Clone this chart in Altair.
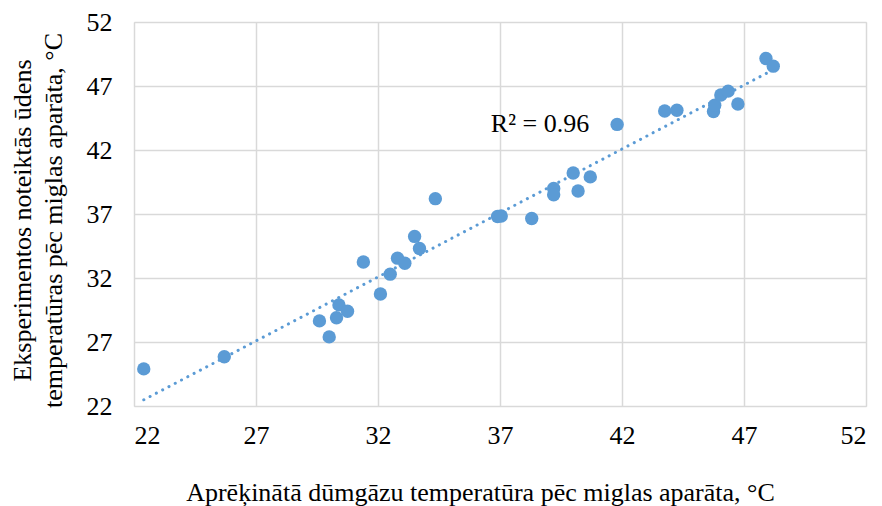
import altair as alt
import pandas as pd

x_vals = [22.4, 25.7, 29.6, 30.0, 30.3, 30.4, 30.75, 31.4, 32.1, 32.5, 32.8, 33.1, 33.5, 33.7, 34.35,
          36.9, 37.05, 38.3, 39.2, 39.2, 40.0, 40.2, 40.7, 41.8, 43.75, 44.25, 45.75, 45.8, 46.05, 46.35,
          46.75, 47.9, 48.2]
y_vals = [24.9, 25.85, 28.65, 27.4, 28.9, 29.9, 29.4, 33.25, 30.75, 32.3, 33.55, 33.15, 35.25, 34.3, 38.2,
          36.8, 36.85, 36.65, 39.0, 38.5, 40.2, 38.8, 39.9, 44.0, 45.05, 45.1, 45.0, 45.5, 46.3, 46.6,
          45.6, 49.15, 48.55]
ticks = [22, 27, 32, 37, 42, 47, 52]
r2_label = ["R² = 0.96"]
r2_pos_x = [38.64]
r2_pos_y = [44.0]

df = pd.DataFrame({"x": x_vals, "y": y_vals})
lab = pd.DataFrame({"x": r2_pos_x, "y": r2_pos_y, "t": r2_label})

FONT = "Liberation Serif"
BLUE = "#5B9BD5"
FS = 26

xs = alt.Scale(domain=[22, 52], nice=False, zero=False)
ys = alt.Scale(domain=[22, 52], nice=False, zero=False)

xaxis = alt.Axis(values=ticks, title="Aprēķinātā dūmgāzu temperatūra pēc miglas aparāta, °C",
                 grid=True, gridColor="#D9D9D9", gridWidth=1.5, domain=False, ticks=False,
                 labelFont=FONT, labelFontSize=FS, labelColor="#000", labelPadding=16,
                 titleFont=FONT, titleFontSize=FS, titleFontWeight="normal", titleColor="#000",
                 titleX=346, titleY=94, titleBaseline="alphabetic", titleAlign="center")
yaxis = alt.Axis(values=ticks, title=["Eksperimentos noteiktās ūdens", "temperatūras pēc miglas aparāta, °C"],
                 grid=True, gridColor="#D9D9D9", gridWidth=1.5, domain=False, ticks=False,
                 labelFont=FONT, labelFontSize=FS, labelColor="#000", labelPadding=22,
                 titleFont=FONT, titleFontSize=FS, titleFontWeight="normal", titleColor="#000",
                 titleLineHeight=31, titleX=-104, titleY=198, titleAngle=270,
                 titleBaseline="alphabetic", titleAlign="center")

base = alt.Chart(df)

trend = base.transform_regression("x", "y").mark_line(
    color=BLUE, strokeWidth=3, strokeDash=[0.1, 7], strokeCap="round"
).encode(x=alt.X("x:Q", scale=xs, axis=xaxis), y=alt.Y("y:Q", scale=ys, axis=yaxis))

pts = base.mark_circle(size=180, color=BLUE, opacity=1).encode(
    x=alt.X("x:Q", scale=xs), y=alt.Y("y:Q", scale=ys))

txt = alt.Chart(lab).mark_text(font=FONT, fontSize=FS, color="#000", align="center", baseline="middle").encode(
    x=alt.X("x:Q", scale=xs), y=alt.Y("y:Q", scale=ys), text="t:N")

chart = alt.layer(trend, pts, txt).properties(
    width=732, height=384,
    autosize=alt.AutoSizeParams(type="none"),
    padding={"left": 134, "top": 22, "right": 16, "bottom": 100},
).configure_view(stroke="#D9D9D9", strokeWidth=1.5).configure(background="white")

chart.save("out.html", embed_options={"renderer": "svg", "actions": False})
